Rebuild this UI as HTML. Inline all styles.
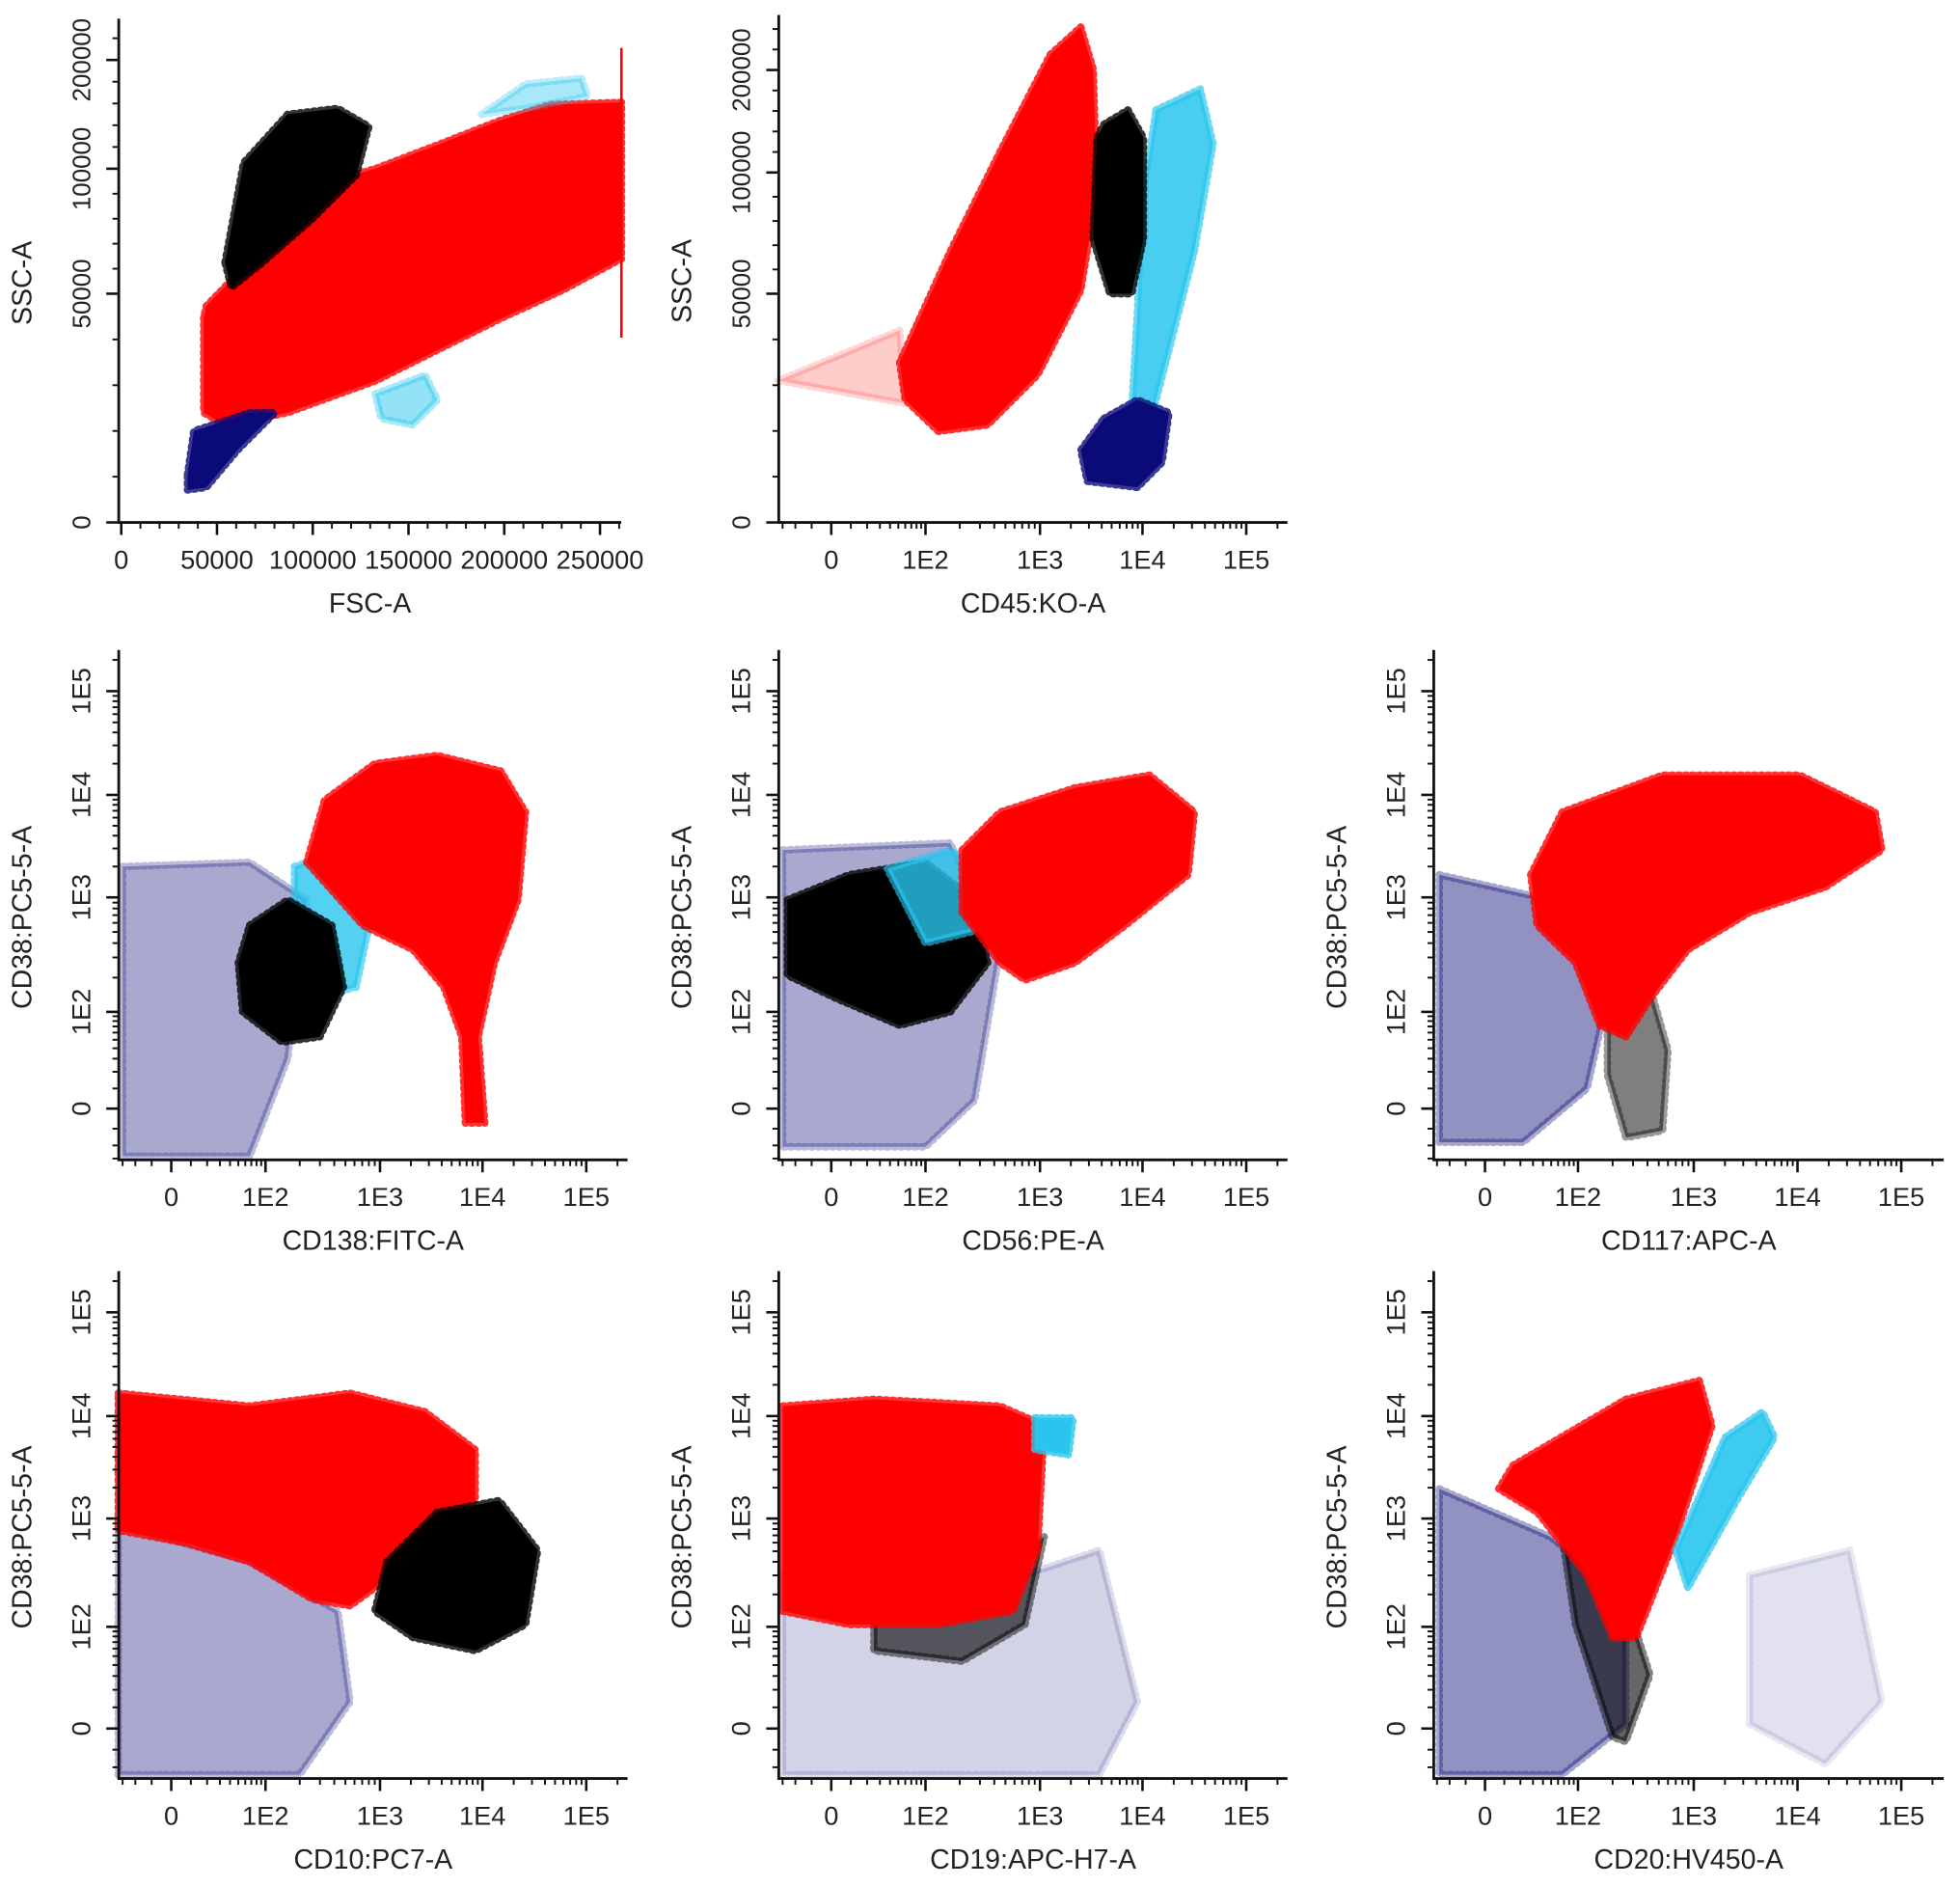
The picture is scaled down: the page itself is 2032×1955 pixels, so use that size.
<!DOCTYPE html>
<html><head><meta charset="utf-8">
<style>
html,body{margin:0;padding:0;background:#fff;}
svg{display:block;}
text{font-family:"Liberation Sans",sans-serif;fill:#222;}
</style></head>
<body>
<svg id="fig" xmlns="http://www.w3.org/2000/svg" width="2032" height="1955" viewBox="0 0 1568 1509" preserveAspectRatio="none"></svg>
<script>
// ===== Data (values in instrument units) =====
// Panel 1: FSC-A vs SSC-A
const fscRedX=[43100,43100,54200,86900,132600,165200,197900,230500,261200,261200,224000,197900,165200,132600,99900,80300,54200,44400];
const fscRedY=[44800,24000,21300,24000,30900,37700,44500,51400,64000,161000,159000,144500,122000,100000,92500,75000,52800,47300];
const fscBlackX=[54200,63900,86900,113000,129300,122800,99900,73800,57500];
const fscBlackY=[62500,105500,150000,155500,138900,97500,80000,62500,52500];
const fscNavyX=[34600,37900,67300,80300,60700,44400,34600];
const fscNavyY=[10400,20000,24000,24000,15800,7650,7100];
const fscCyanAX=[132600,158700,165200,152100,135800];
const fscCyanAY=[28100,32200,26800,21300,22700];
const fscCyanBX=[188100,211000,240300,243600,211000];
const fscCyanBY=[150000,177800,183300,166700,155500];
const fscGateX=[261200,261200];
const fscGateY=[211000,40400];
// Panel 2: CD45 vs SSC-A
const cd45RedX=[52,60,130,350,950,2500,3600,3300,2500,1260,450,165];
const cd45RedY=[35000,26800,19900,21300,32200,51400,92500,201000,242000,215000,120500,67500];
const cd45RedTailX=[-34,52,60];
const cd45RedTailY=[31000,42000,26000];
const cd45BlackX=[4200,7200,10200,10200,7800,4800,3300,3600];
const cd45BlackY=[147000,161000,134000,72500,50000,50000,72500,134000];
const cd45CyanX=[13500,36000,48000,31600,18000,11700,7800,8900,10200];
const cd45CyanY=[161000,181500,128000,67500,37700,21300,24000,46000,92500];
const cd45NavyX=[4200,8900,18000,15400,8900,2900,2500];
const cd45NavyY=[22700,26800,24000,13100,7650,9000,15800];
// Panel 3: CD138 vs CD38
const cd138NavyX=[-30,67,230,157,67,-30];
const cd138NavyY=[2000,2200,950,30,-28,-28];
const cd138BlackX=[67,157,380,480,300,140,56,50];
const cd138BlackY=[570,950,570,165,54,47,100,270];
const cd138CyanX=[180,480,900,620,260,180];
const cd138CyanY=[2000,2900,950,165,130,570];
const cd138RedX=[230,330,900,3600,15000,26000,22000,13000,9100,10500,6800,6300,4200,2100,710];
const cd138RedY=[2200,8900,20000,24000,17000,6800,950,270,54,-7,-7,54,165,350,570];
// Panel 4: CD56 vs CD38
const cd56NavyX=[-30,165,450,270,100,-30];
const cd56NavyY=[2900,3400,350,4,-21,-21];
const cd56BlackX=[-26,9,100,270,350,165,52,3,-26];
const cd56BlackY=[950,1660,2200,950,270,100,72,130,210];
const cd56CyanX=[37,165,350,270,100];
const cd56CyanY=[1900,2900,1660,510,400];
const cd56RedX=[210,450,2200,11700,31600,27500,6800,2200,740,450,210];
const cd56RedY=[2900,6800,11700,15500,6800,1660,570,270,190,270,740];
// Panel 5: CD117 vs CD38
const cd117NavyX=[-28,49,200,120,22,-28];
const cd117NavyY=[1660,950,210,10,-18,-18];
const cd117BlackX=[180,420,600,540,260,180];
const cd117BlackY=[165,165,38,-11,-15,18];
const cd117RedX=[28,67,540,10500,56000,65000,18500,3470,890,420,260,155,94,34];
const cd117RedY=[1660,6800,15500,15500,6800,2900,1260,740,350,130,54,72,270,570];
// Panel 6: CD10 vs CD38
const cd10NavyX=[-34,67,430,550,200,-34];
const cd10NavyY=[870,400,140,13,-25,-25];
const cd10RedX=[-34,67,550,2750,8500,8500,2750,900,550,260,67,8,-34];
const cd10RedY=[16600,12500,16600,11000,4700,1500,870,230,157,180,400,590,780];
const cd10BlackX=[1170,3600,14500,34000,26000,8500,2100,900];
const cd10BlackY=[400,1150,1500,510,105,57,78,140];
// Panel 7: CD19 vs CD38
const cd19NavyX=[-30,165,3800,8900,3800,-30];
const cd19NavyY=[300,180,510,13,-25,-25];
const cd19RedX=[-30,25,450,1100,950,580,130,9,-30];
const cd19RedY=[12500,14500,12500,8100,510,140,105,105,140];
const cd19BlackX=[25,450,1100,740,210,25];
const cd19BlackY=[180,300,680,105,44,57];
const cd19CyanX=[900,2100,1900,900];
const cd19CyanY=[9600,9600,4200,4700];
// Panel 8: CD20 vs CD38
const cd20NavyX=[-28,49,260,260,67,-28];
const cd20NavyY=[1950,680,180,2,-25,-25];
const cd20NavyBX=[3460,32000,65000,18500,3460];
const cd20NavyBY=[300,510,13,-18,2];
const cd20BlackX=[67,260,420,260,200,94];
const cd20BlackY=[680,180,31,-6,-4,105];
const cd20RedX=[15,260,1130,1500,700,320,200,120,34,7];
const cd20RedY=[3300,14500,22000,8100,680,78,78,300,1150,1950];
const cd20CyanX=[700,2000,4600,6000,2600,890];
const cd20CyanY=[510,6200,11000,6200,1500,230];

const logTickVals=[0,100,1000,10000,100000];
const logTickLabels=["0","1E2","1E3","1E4","1E5"];
const fscTickVals=[0,50000,100000,150000,200000,250000];
const fscTickLabels=["0","50000","100000","150000","200000","250000"];
const sscTickVals=[0,50000,100000,200000];
const sscTickLabels=["0","50000","100000","200000"];

// ===== Scales =====
const biex=v=>Math.asinh(v/20)/Math.LN10;
const lin=v=>v;
function mk(tf,gs,ps){
  return v=>{const g=tf(v);let i=0;while(i<gs.length-2&&g>gs[i+1])i++;
    return ps[i]+(g-gs[i])*(ps[i+1]-ps[i])/(gs[i+1]-gs[i]);};
}
const NS="http://www.w3.org/2000/svg";
const svg=document.getElementById('fig');
function el(t,a,p){const e=document.createElementNS(NS,t);for(const k in a)e.setAttribute(k,a[k]);(p||svg).appendChild(e);return e;}

const COLORS={red:"#ff0000",black:"#000000",navy:"#0a0a78",cyan:"#29c5ee"};

function panel(cfg){
  const g=el('g',{});
  
  
  const sx=cfg.sx, sy=cfg.sy;
  const fs=cfg.fs||21;
  cfg.pops.forEach(p=>{
    const pts=p.x.map((v,i)=>sx(v).toFixed(1)+','+sy(p.y[i]).toFixed(1)).join(' ');
    const pg=el('polygon',{points:pts,fill:COLORS[p.c],'fill-opacity':p.o||1,stroke:COLORS[p.c],'stroke-opacity':(p.o||1)*0.8,'stroke-width':6,'stroke-dasharray':'1.5 4','stroke-linecap':'round','stroke-linejoin':'round'},g);
    
    
  });
  if(cfg.gate){
    const ln=el('line',{x1:sx(cfg.gate.x[0]),y1:sy(cfg.gate.y[0]),x2:sx(cfg.gate.x[1]),y2:sy(cfg.gate.y[1]),stroke:'#ff0000','stroke-width':2},g);
    
    
  }
  const L=cfg.L,R=cfg.R,T=cfg.T,B=cfg.B;
  const ax=el('path',{d:`M${L},${T} L${L},${B} L${R},${B}`,fill:'none',stroke:'#111','stroke-width':2.2},g);
  
  
  cfg.xMinor.forEach(v=>{const x=sx(v);if(x>=L&&x<=R)el('line',{x1:x,y1:B,x2:x,y2:B+5,stroke:'#111','stroke-width':1.5},g);});
  cfg.yMinor.forEach(v=>{const y=sy(v);if(y>=T&&y<=B)el('line',{x1:L-5,y1:y,x2:L,y2:y,stroke:'#111','stroke-width':1.5},g);});
  cfg.xt.forEach((v,i)=>{
    const x=sx(v);
    el('line',{x1:x,y1:B,x2:x,y2:B+10,stroke:'#111','stroke-width':2},g);
    const t=el('text',{x:x,y:B+37,'text-anchor':'middle','font-size':21},g);
    t.textContent=cfg.xl[i];
    
    
  });
  cfg.yt.forEach((v,i)=>{
    const y=sy(v);
    el('line',{x1:L-10,y1:y,x2:L,y2:y,stroke:'#111','stroke-width':2},g);
    const t=el('text',{x:0,y:0,'text-anchor':'middle','font-size':fs,transform:`translate(${L-23},${y}) rotate(-90)`},g);
    t.textContent=cfg.yl[i];
    
    
  });
  const xt=el('text',{x:(L+R)/2,y:B+72,'text-anchor':'middle','font-size':22},g);
  xt.textContent=cfg.xtitle;
  
  
  const yt=el('text',{x:0,y:0,'text-anchor':'middle','font-size':22,transform:`translate(${L-70},${(T+B)/2+10}) rotate(-90)`},g);
  yt.textContent=cfg.ytitle;
  
  
}

const logMinor=[];
[-30,-20,-10,10,20,30,40,50,60,70,80,90].forEach(v=>logMinor.push(v));
[100,1000,10000].forEach(d=>{for(let k=2;k<=9;k++)logMinor.push(d*k);});
logMinor.push(200000);
const fscMinor=[];for(let v=0;v<=260000;v+=10000)fscMinor.push(v);
const sscMinor=[];for(let v=0;v<=100000;v+=10000)sscMinor.push(v);for(let v=120000;v<=240000;v+=20000)sscMinor.push(v);

function logS(p0,p1,p2,p3,p4){return mk(biex,[0,1,2,3,4],[p0,p1,p2,p3,p4]);}

const colX=[[137,212,304,386,469],[665,740,832,914,997],[1188,1262,1355,1438,1521]];
const colLR=[[95,502],[623,1030],[1147,1555]];
const rowY2=[887,810,718,636,553], rowY3=[1383,1302,1215,1133,1050];

panel({name:'panel-fsc-ssc',L:95,R:497,T:15,B:418,
  sx:mk(lin,[0,250000],[97,480]),sy:mk(lin,[0,50000,100000,200000],[418,235,135,48]),
  xt:fscTickVals,xl:fscTickLabels,yt:sscTickVals,yl:sscTickLabels,xMinor:fscMinor,yMinor:sscMinor,
  xtitle:'FSC-A',ytitle:'SSC-A',fs:20,
  gate:{x:fscGateX,y:fscGateY},
  pops:[{n:'red-population',c:'red',x:fscRedX,y:fscRedY},
        {n:'black-population',c:'black',x:fscBlackX,y:fscBlackY},
        {n:'navy-population',c:'navy',x:fscNavyX,y:fscNavyY},
        {n:'cyan-population-low',c:'cyan',x:fscCyanAX,y:fscCyanAY,o:0.5},
        {n:'cyan-population-high',c:'cyan',x:fscCyanBX,y:fscCyanBY,o:0.4}]});
panel({name:'panel-cd45-ssc',L:623,R:1030,T:12,B:418,
  sx:logS(...colX[1]),sy:mk(lin,[0,50000,100000,200000],[418,235,138,56]),
  xt:logTickVals,xl:logTickLabels,yt:sscTickVals,yl:sscTickLabels,xMinor:logMinor,yMinor:sscMinor,
  xtitle:'CD45:KO-A',ytitle:'SSC-A',fs:20,
  pops:[{n:'red-sparse-tail',c:'red',x:cd45RedTailX,y:cd45RedTailY,o:0.2},
        {n:'red-population',c:'red',x:cd45RedX,y:cd45RedY},
        {n:'cyan-population',c:'cyan',x:cd45CyanX,y:cd45CyanY,o:0.85},
        {n:'black-population',c:'black',x:cd45BlackX,y:cd45BlackY},
        {n:'navy-population',c:'navy',x:cd45NavyX,y:cd45NavyY}]});
function r2(i,name,xtitle,pops){
  panel({name,L:colLR[i][0],R:colLR[i][1],T:520,B:928,sx:logS(...colX[i]),sy:logS(...rowY2),
    xt:logTickVals,xl:logTickLabels,yt:logTickVals,yl:logTickLabels,xMinor:logMinor,yMinor:logMinor,
    xtitle,ytitle:'CD38:PC5-5-A',pops});
}
function r3(i,name,xtitle,pops){
  panel({name,L:colLR[i][0],R:colLR[i][1],T:1017,B:1423,sx:logS(...colX[i]),sy:logS(...rowY3),
    xt:logTickVals,xl:logTickLabels,yt:logTickVals,yl:logTickLabels,xMinor:logMinor,yMinor:logMinor,
    xtitle,ytitle:'CD38:PC5-5-A',pops});
}
r2(0,'panel-cd138-cd38','CD138:FITC-A',[
  {n:'navy-population',c:'navy',x:cd138NavyX,y:cd138NavyY,o:0.35},
  {n:'cyan-population',c:'cyan',x:cd138CyanX,y:cd138CyanY,o:0.8},
  {n:'black-population',c:'black',x:cd138BlackX,y:cd138BlackY},
  {n:'red-population',c:'red',x:cd138RedX,y:cd138RedY}]);
r2(1,'panel-cd56-cd38','CD56:PE-A',[
  {n:'navy-population',c:'navy',x:cd56NavyX,y:cd56NavyY,o:0.35},
  {n:'black-population',c:'black',x:cd56BlackX,y:cd56BlackY},
  {n:'cyan-population',c:'cyan',x:cd56CyanX,y:cd56CyanY,o:0.8},
  {n:'red-population',c:'red',x:cd56RedX,y:cd56RedY}]);
r2(2,'panel-cd117-cd38','CD117:APC-A',[
  {n:'navy-population',c:'navy',x:cd117NavyX,y:cd117NavyY,o:0.45},
  {n:'black-population',c:'black',x:cd117BlackX,y:cd117BlackY,o:0.5},
  {n:'red-population',c:'red',x:cd117RedX,y:cd117RedY}]);
r3(0,'panel-cd10-cd38','CD10:PC7-A',[
  {n:'navy-population',c:'navy',x:cd10NavyX,y:cd10NavyY,o:0.35},
  {n:'red-population',c:'red',x:cd10RedX,y:cd10RedY},
  {n:'black-population',c:'black',x:cd10BlackX,y:cd10BlackY}]);
r3(1,'panel-cd19-cd38','CD19:APC-H7-A',[
  {n:'navy-population',c:'navy',x:cd19NavyX,y:cd19NavyY,o:0.18},
  {n:'black-population',c:'black',x:cd19BlackX,y:cd19BlackY,o:0.6},
  {n:'red-population',c:'red',x:cd19RedX,y:cd19RedY},
  {n:'cyan-population',c:'cyan',x:cd19CyanX,y:cd19CyanY}]);
r3(2,'panel-cd20-cd38','CD20:HV450-A',[
  {n:'navy-population',c:'navy',x:cd20NavyX,y:cd20NavyY,o:0.45},
  {n:'navy-population-right',c:'navy',x:cd20NavyBX,y:cd20NavyBY,o:0.12},
  {n:'black-population',c:'black',x:cd20BlackX,y:cd20BlackY,o:0.6},
  {n:'red-population',c:'red',x:cd20RedX,y:cd20RedY},
  {n:'cyan-population',c:'cyan',x:cd20CyanX,y:cd20CyanY,o:0.9}]);
</script>
</body></html>
